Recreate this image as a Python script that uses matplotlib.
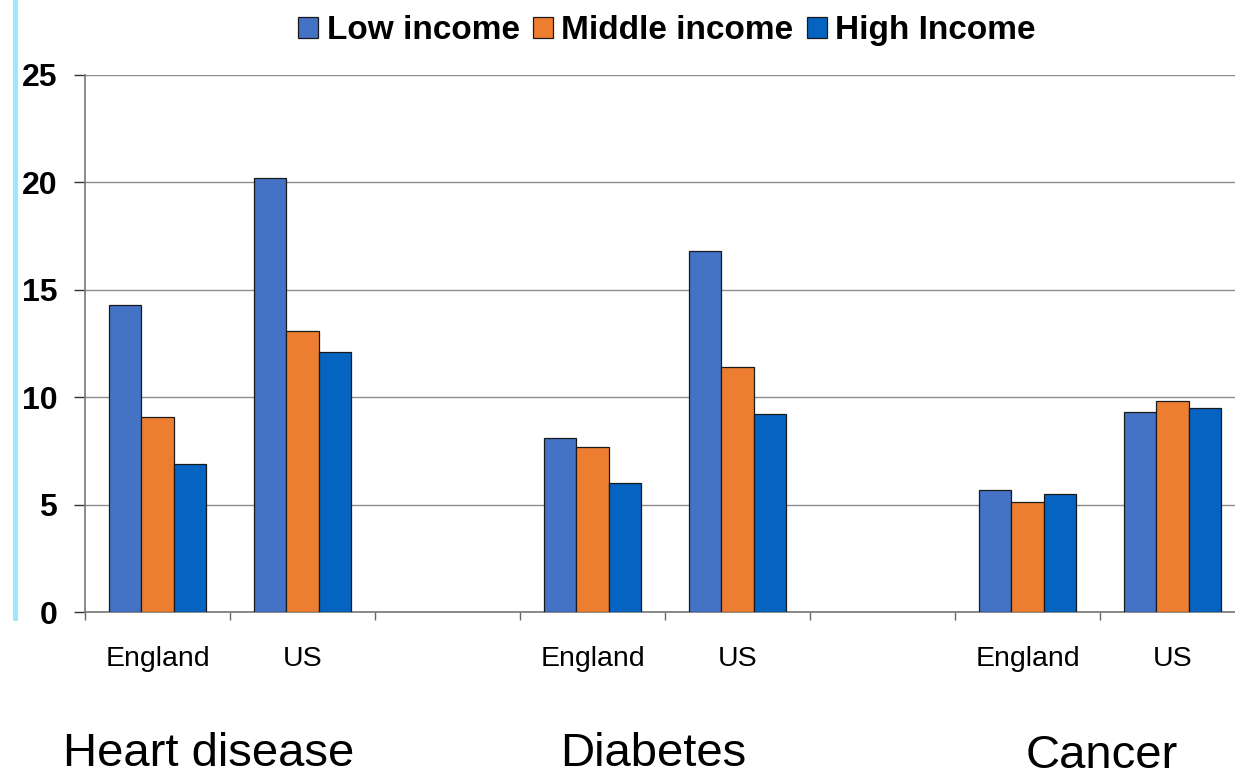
import numpy as np
import matplotlib
matplotlib.use('Agg')
import matplotlib.pyplot as plt
from matplotlib.lines import Line2D
from matplotlib.patches import Patch

plt.rcParams['font.family'] = ['Liberation Sans', 'DejaVu Sans']

# Rates by disease, country and income level
groups = ['Heart disease', 'Diabetes', 'Cancer']
countries = ['England', 'US']
series = ['Low income', 'Middle income', 'High Income']
low = [14.3, 20.2, 8.1, 16.8, 5.7, 9.3]
mid = [9.1, 13.1, 7.7, 11.4, 5.1, 9.8]
high = [6.9, 12.1, 6.0, 9.2, 5.5, 9.5]
colors = ['#4472C4', '#ED7D31', '#0563C1']

# each disease takes three slots: England, US, empty gap
slots = np.array([3 * g + c for g in range(len(groups)) for c in range(len(countries))])
labels = countries * len(groups)

fig = plt.figure(figsize=(12.35, 7.71), dpi=100)
ax = fig.add_axes([85 / 1235, 1 - 612 / 771, 1160 / 1235, 537 / 771])

w = 0.2234
for i, (vals, col) in enumerate(zip([low, mid, high], colors)):
    ax.bar(slots + (i - 1) * w, vals, width=w, color=col,
           edgecolor='#1a1a1a', linewidth=0.9, zorder=3)

ax.set_xlim(-0.5, 7.5)
ax.set_ylim(0, 25)
ax.set_yticks([0, 5, 10, 15, 20, 25])
ax.yaxis.grid(True, color='#8c8c8c', linewidth=1.0, zorder=0)
ax.set_axisbelow(True)

ax.set_xticks(slots)
ax.set_xticklabels(labels, fontsize=20.5)
ax.set_xticks(np.arange(-0.5, 8.0, 1.0), minor=True)
ax.tick_params(axis='x', which='major', length=0, pad=24.5)
ax.tick_params(axis='x', which='minor', length=6, width=1, color='#666666', direction='out')
ax.tick_params(axis='y', length=8, width=1, color='#333333', pad=12)
for t in ax.get_yticklabels():
    t.set_fontsize(23)
    t.set_fontweight('bold')

for s in ['top', 'right']:
    ax.spines[s].set_visible(False)
for s in ['left', 'bottom']:
    ax.spines[s].set_color('#777777')
    ax.spines[s].set_linewidth(1.2)

# disease names under the country pairs
group_x = [0.35, 3.42, 6.51]
group_y = [-0.265, -0.265, -0.268]
for name, gx, gy in zip(groups, group_x, group_y):
    ax.text(gx, gy, name, transform=ax.get_xaxis_transform(),
            ha='center', va='center', fontsize=34, clip_on=False)

handles = [Patch(facecolor=c, edgecolor='#1a1a1a', linewidth=0.9) for c in colors]
fig.legend(handles, series, loc='center', bbox_to_anchor=(0.54, 0.96), ncol=3,
           frameon=False, handlelength=0.6, handleheight=0.6,
           handletextpad=0.25, columnspacing=0.4,
           prop={'weight': 'bold', 'size': 24})

# light accent rule on the left margin
fig.add_artist(Line2D([15 / 1235, 15 / 1235], [1 - 618 / 771, 1.0],
                      transform=fig.transFigure, color='#9ee6fb', linewidth=3.5))

fig.savefig('out.png', dpi=100)
